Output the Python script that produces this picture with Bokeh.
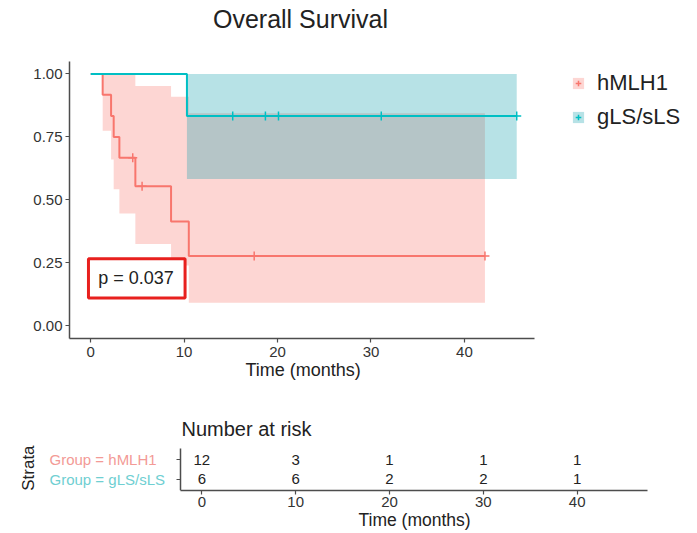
import numpy as np
from bokeh.plotting import figure
from bokeh.models import (Legend, LegendItem, Label, BoxAnnotation, FixedTicker,
                          Range1d, NumeralTickFormatter, Title)
from bokeh.embed import file_html
from bokeh.resources import INLINE
from bokeh.core.properties import value

FONT = "Liberation Sans"
PINK = "#F8766D"
TEAL = "#00BFC4"
TEAL_FILL = "#129EAC"

# ---- Kaplan-Meier data ----
h_time = [0, 1.28, 2.18, 2.46, 3.07, 4.78, 8.6, 10.5, 42.2]
h_surv = [1.0, 0.917, 0.833, 0.75, 0.667, 0.554, 0.414, 0.277, 0.277]
h_upper = [1.0, 1.0, 1.0, 1.0, 1.0, 0.952, 0.909, 0.844, 0.844]
h_lower = [1.0, 0.774, 0.66, 0.542, 0.446, 0.325, 0.24, 0.092, 0.092]
h_cens_t = [4.5, 5.5, 17.5, 42.2]
h_cens_s = [0.667, 0.554, 0.277, 0.277]

g_time = [0, 10.3, 45.6]
g_surv = [1.0, 0.833, 0.833]
g_upper = [1.0, 1.0, 1.0]
g_lower = [1.0, 0.583, 0.583]
g_cens_t = [15.2, 18.7, 20.1, 31.1, 45.6]
g_cens_s = [0.833, 0.833, 0.833, 0.833, 0.833]

groups = ["hMLH1", "gLS/sLS"]
x_ticks = [0, 10, 20, 30, 40]
y_ticks = [0, 0.25, 0.5, 0.75, 1.0]
title_text = "Overall Survival"
p_value_text = "p = 0.037"
x_label = "Time (months)"

# ---- risk table ----
risk_times = [0, 10, 20, 30, 40]
risk_h = [12, 3, 1, 1, 1]
risk_g = [6, 6, 2, 2, 1]

X_BOUNDS = (-2.27, 47.5)
Y_BOUNDS = (-0.05, 1.05)
STRATA_BOUNDS = (0.4, 2.6)


def style_axes(fig, tick_size="15px"):
    fig.outline_line_color = None
    fig.grid.visible = False
    for ax in fig.xaxis + fig.yaxis:
        ax.axis_line_color = "#4d4d4d"
        ax.axis_line_width = 1.5
        ax.major_tick_line_color = "#4d4d4d"
        ax.major_tick_line_width = 1.2
        ax.major_tick_out = 4
        ax.major_tick_in = 0
        ax.minor_tick_line_color = None
        ax.major_label_text_font = FONT
        ax.major_label_text_font_size = tick_size
        ax.major_label_text_color = "#333333"


def style_title(t, size):
    t.text_font = FONT
    t.text_font_size = size
    t.text_font_style = "normal"
    t.text_color = "#222222"


# ================= main survival plot =================
p = figure(width=697, height=403, x_range=Range1d(-2.27, 64.2), y_range=Range1d(-0.05, 1.2913),
           output_backend="svg", toolbar_location=None, title_location=None,
           min_border_left=69, min_border_right=7, min_border_top=0, min_border_bottom=65)

h_ci = p.varea_step(x=h_time, y1=h_lower, y2=h_upper, step_mode="after",
                    fill_color=PINK, fill_alpha=0.3)
g_ci = p.varea_step(x=g_time, y1=g_lower, y2=g_upper, step_mode="after",
                    fill_color=TEAL_FILL, fill_alpha=0.3)
p.step(x=h_time, y=h_surv, mode="after", line_color=PINK, line_width=2)
p.step(x=g_time, y=g_surv, mode="after", line_color=TEAL, line_width=2)
h_c = p.scatter(x=h_cens_t, y=h_cens_s, marker="cross", size=9, line_color=PINK, line_width=1.5)
g_c = p.scatter(x=g_cens_t, y=g_cens_s, marker="cross", size=9, line_color=TEAL, line_width=1.5)

p.xaxis.ticker = FixedTicker(ticks=x_ticks)
p.xaxis.bounds = X_BOUNDS
p.yaxis.ticker = FixedTicker(ticks=y_ticks)
p.yaxis.bounds = Y_BOUNDS
p.yaxis.formatter = NumeralTickFormatter(format="0.00")
style_axes(p)
p.xaxis.major_label_standoff = 4
p.yaxis.major_label_standoff = 3
xt = Title(text=x_label, align="left", offset=176, vertical_align="top", standoff=0)
style_title(xt, "18px")
p.add_layout(xt, "below")

p.add_layout(Label(x=231, x_units="screen", y=320, y_units="screen", text=title_text,
                   text_align="center", text_baseline="middle", text_font=FONT,
                   text_font_size="25px", text_color="#222222"))

box = BoxAnnotation(left=-0.24, right=10.1, bottom=0.111, top=0.266,
                    fill_color="white", fill_alpha=1.0, line_color="#E8201E",
                    line_alpha=1.0, line_width=3)
p.add_layout(box)
p.add_layout(Label(x=0.8, y=0.19, text=p_value_text, text_baseline="middle",
                   text_align="left", text_font=FONT, text_font_size="18px",
                   text_color="#222222"))

legend = Legend(items=[LegendItem(label=groups[0], renderers=[h_ci, h_c]),
                       LegendItem(label=groups[1], renderers=[g_ci, g_c])],
                location=(502, 206), border_line_color=None, background_fill_alpha=0,
                glyph_width=14, glyph_height=14, label_height=30, spacing=4,
                padding=8, margin=0, label_standoff=12,
                label_text_font=FONT, label_text_font_size="22px",
                label_text_color="#222222")
p.add_layout(legend)

# ================= risk table =================
r = figure(width=697, height=130, x_range=Range1d(-19.75, 52.08), y_range=Range1d(0.4, 3.02),
           output_backend="svg", toolbar_location=None,
           min_border_left=16, min_border_right=7, min_border_top=37, min_border_bottom=43)
r.title.text = "Number at risk"
r.title.align = "left"
r.title.offset = 165
r.title.standoff = 1
style_title(r.title, "20px")

r.text(x=risk_times, y=[2] * len(risk_times), text=[str(v) for v in risk_h],
       text_align="center", text_baseline="middle", text_font=value(FONT),
       text_font_size="15px", text_color="#222222")
r.text(x=risk_times, y=[1] * len(risk_times), text=[str(v) for v in risk_g],
       text_align="center", text_baseline="middle", text_font=value(FONT),
       text_font_size="15px", text_color="#222222")

r.xaxis.ticker = FixedTicker(ticks=x_ticks)
r.xaxis.bounds = X_BOUNDS
r.yaxis.ticker = FixedTicker(ticks=[1, 2])
r.yaxis.bounds = STRATA_BOUNDS
r.yaxis.major_label_overrides = {1: "", 2: ""}
r.yaxis.fixed_location = X_BOUNDS[0]
style_axes(r)
r.xaxis.major_label_standoff = 2
r.yaxis.major_label_standoff = 0
rt = Title(text=x_label, align="left", offset=342, vertical_align="top", standoff=0)
style_title(rt, "17.5px")
r.add_layout(rt, "below")

r.add_layout(Label(x=12, x_units="screen", y=22.4, y_units="screen", text="Strata",
                   angle=np.pi / 2, text_align="center", text_baseline="middle",
                   text_font=FONT, text_font_size="17px", text_color="#222222"))
r.add_layout(Label(x=33, x_units="screen", y=2, text="Group = " + groups[0],
                   text_baseline="middle", text_align="left", text_font=FONT,
                   text_font_size="15px", text_color="#F39A96"))
r.add_layout(Label(x=33, x_units="screen", y=1, text="Group = " + groups[1],
                   text_baseline="middle", text_align="left", text_font=FONT,
                   text_font_size="15px", text_color="#6FCFD2"))

open("out.html", "w").write(file_html([p, r], INLINE))
